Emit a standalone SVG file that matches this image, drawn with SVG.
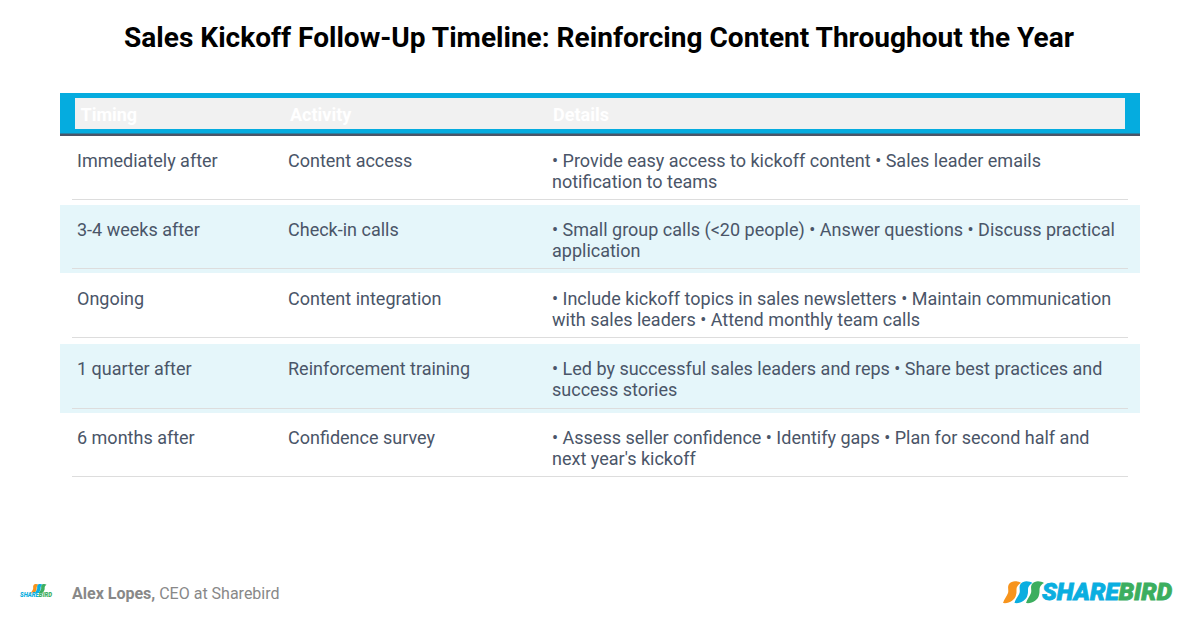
<svg xmlns="http://www.w3.org/2000/svg" width="1200" height="630" viewBox="0 0 1200 630">
<style>
text{font-family:Roboto,"Liberation Sans",sans-serif}
.c{font-size:18px;fill:#4a5568}
.h{font-size:18px;font-weight:700;fill:#fff}
.l{fill:#ddd}
.t{fill:#e5f6fa}
.o{fill:#f7941d}.b{fill:#0aaee0}.g{fill:#3cae5f}
.sb{stroke-width:.8px;paint-order:stroke}
.b.sb{stroke:#0aaee0}.g.sb{stroke:#3cae5f}
</style>
<defs>
<path id="bird" d="M18 2C15 0 9 -1 6 3C4 6 6 9 5 12C4 15 1 18 0 22C6 23 12 19 13 14C14 11 13 8 14 6C15 4 16 3 18 2Z"/>
</defs>
<rect width="1200" height="630" fill="#fff"/>
<text x="599" y="47" text-anchor="middle" font-size="28.050" font-weight="700" fill="#000">Sales Kickoff Follow-Up Timeline: Reinforcing Content Throughout the Year</text>
<g id="header">
<rect x="60" y="93" width="1080" height="41" fill="#05acdf"/>
<rect x="60" y="133.500" width="1080" height="2.500" fill="#4a5568"/>
<rect x="75" y="98" width="1050" height="31" fill="#f1f1f1"/>
<text class="h" x="80.500" y="120.500">Timing</text>
<text class="h" x="290" y="120.500">Activity</text>
<text class="h" x="553" y="120.500">Details</text>
</g>
<g id="row1">
<rect class="l" x="72" y="199" width="1056" height="1"/>
<text class="c" x="77" y="166.500">Immediately after</text>
<text class="c" x="288" y="166.500">Content access</text>
<text class="c" x="552" y="166.500">• Provide easy access to kickoff content • Sales leader emails</text>
<text class="c" x="552" y="187.500">notification to teams</text>
</g>
<g id="row2">
<rect class="t" x="60" y="205" width="1080" height="68"/>
<rect class="l" x="72" y="268" width="1056" height="1"/>
<text class="c" x="77" y="235.500">3-4 weeks after</text>
<text class="c" x="288" y="235.500">Check-in calls</text>
<text class="c" x="552" y="235.500">• Small group calls (&lt;20 people) • Answer questions • Discuss practical</text>
<text class="c" x="552" y="256.500">application</text>
</g>
<g id="row3">
<rect class="l" x="72" y="337" width="1056" height="1"/>
<text class="c" x="77" y="304.500">Ongoing</text>
<text class="c" x="288" y="304.500">Content integration</text>
<text class="c" x="552" y="304.500">• Include kickoff topics in sales newsletters • Maintain communication</text>
<text class="c" x="552" y="325.500">with sales leaders • Attend monthly team calls</text>
</g>
<g id="row4">
<rect class="t" x="60" y="344" width="1080" height="69"/>
<rect class="l" x="72" y="408" width="1056" height="1"/>
<text class="c" x="77" y="374.500">1 quarter after</text>
<text class="c" x="288" y="374.500">Reinforcement training</text>
<text class="c" x="552" y="374.500">• Led by successful sales leaders and reps • Share best practices and</text>
<text class="c" x="552" y="395.500">success stories</text>
</g>
<g id="row5">
<rect class="l" x="72" y="476" width="1056" height="1"/>
<text class="c" x="77" y="443.500">6 months after</text>
<text class="c" x="288" y="443.500">Confidence survey</text>
<text class="c" x="552" y="443.500">• Assess seller confidence • Identify gaps • Plan for second half and</text>
<text class="c" x="552" y="464.500">next year's kickoff</text>
</g>
<g id="author">
<use href="#bird" class="o" transform="translate(31 584) scale(.42)"/>
<use href="#bird" class="b" transform="translate(35 584) scale(.42)"/>
<use href="#bird" class="g" transform="translate(39 584) scale(.42)"/>
<text x="20" y="597" font-size="6.500" font-weight="900" font-style="italic" textLength="32" lengthAdjust="spacingAndGlyphs" class="b">SHARE<tspan class="g">BIRD</tspan></text>
<text x="72" y="598.500" font-size="16" fill="#888"><tspan font-weight="700">Alex Lopes,</tspan> CEO at Sharebird</text>
</g>
<g id="logo">
<use href="#bird" class="o" transform="translate(1003 581)"/>
<use href="#bird" class="b" transform="translate(1014.500 581)"/>
<use href="#bird" class="g" transform="translate(1026 581)"/>
<text x="1042" y="600" font-size="24" font-weight="900" font-style="italic" textLength="130" lengthAdjust="spacingAndGlyphs" class="b sb">SHARE<tspan class="g sb">BIRD</tspan></text>
</g>
</svg>
